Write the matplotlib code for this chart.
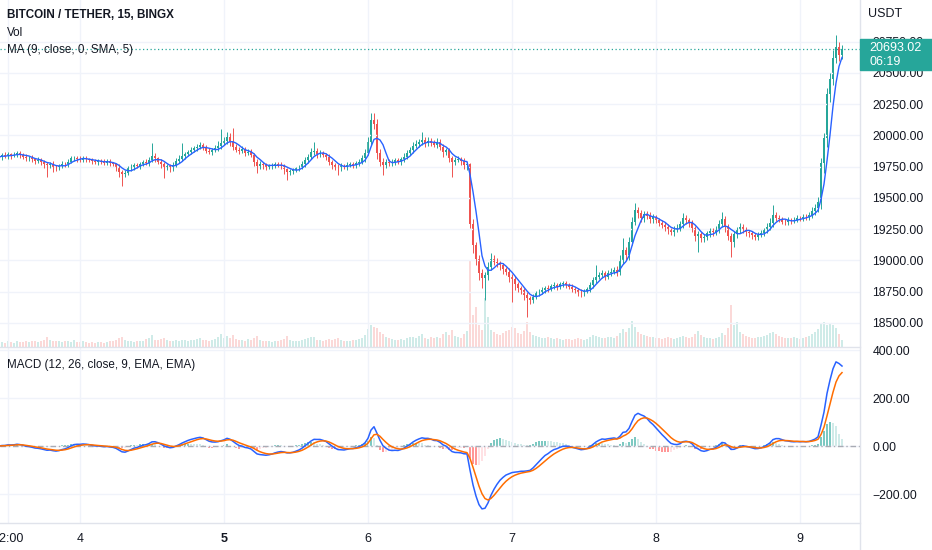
import matplotlib.pyplot as plt
from matplotlib.patches import Rectangle
from matplotlib.lines import Line2D
from matplotlib.ticker import FuncFormatter
import numpy as np
import pandas as pd

W, H = 932, 550

# 30 minute bars, BTC/USDT, from 3rd ~10:30 to 9th 07:00
first_open = 19830
closes = [
    19825, 19840, 19832, 19850, 19838, 19845, 19860, 19842, 19830, 19815,
    19822, 19808, 19795, 19800, 19785, 19770, 19760, 19772, 19745, 19740,
    19755, 19770, 19768, 19790, 19815, 19822, 19810, 19805, 19818, 19808,
    19800, 19792, 19785, 19795, 19788, 19780, 19792, 19776, 19770, 19748,
    19710, 19688, 19700, 19735, 19748, 19760, 19752, 19772, 19785, 19778,
    19805, 19838, 19815, 19790, 19770, 19745, 19752, 19738, 19765, 19795,
    19810, 19835, 19850, 19868, 19880, 19895, 19910, 19922, 19905, 19878,
    19868, 19880, 19895, 19912, 19940, 19955, 19990, 19945, 19910, 19885,
    19875, 19890, 19862, 19870, 19845, 19790, 19755, 19770, 19762, 19748,
    19755, 19760, 19770, 19765, 19758, 19730, 19705, 19712, 19722, 19735,
    19745, 19770, 19805, 19830, 19865, 19875, 19850, 19860, 19842, 19830,
    19790, 19765, 19750, 19738, 19755, 19748, 19765, 19770, 19760, 19775,
    19790, 19815, 19860, 19950, 20120, 20090, 19860, 19790, 19760, 19790,
    19775, 19790, 19800, 19785, 19810, 19830, 19860, 19880, 19915, 19930,
    19945, 19960, 19935, 19955, 19940, 19925, 19948, 19910, 19870, 19880,
    19820, 19790, 19805, 19810, 19795, 19765, 19770, 19290, 19120, 19010,
    18900, 18860, 18880, 18950, 19010, 18990, 18975, 18960, 18930, 18910,
    18870, 18850, 18810, 18780, 18760, 18720, 18700, 18680, 18710, 18735,
    18750, 18765, 18780, 18770, 18795, 18800, 18790, 18810, 18815, 18800,
    18790, 18770, 18760, 18745, 18735, 18755, 18770, 18800, 18840, 18870,
    18880, 18895, 18870, 18900, 18910, 18925, 18905, 19000, 19080, 19040,
    19150, 19310, 19400, 19380, 19340, 19370, 19355, 19330, 19345, 19320,
    19300, 19285, 19270, 19240, 19225, 19250, 19260, 19290, 19340, 19320,
    19300, 19260, 19195, 19210, 19180, 19190, 19215, 19235, 19225, 19250,
    19290, 19330, 19270, 19195, 19150, 19210, 19240, 19265, 19250, 19225,
    19215, 19200, 19190, 19205, 19220, 19240, 19270, 19300, 19360, 19340,
    19330, 19310, 19305, 19320, 19315, 19325, 19340, 19335, 19350, 19345,
    19365, 19395, 19420, 19470, 19780, 19980, 20330, 20450, 20620, 20710, 20640, 20693,
]
upper_wick = [
    20, 15, 25, 18, 12, 22, 16, 14, 20, 18,
    15, 20, 12, 25, 18, 14, 20, 16, 22, 15,
    18, 25, 14, 20, 22, 16, 12, 24, 18, 15,
    14, 18, 22, 12, 16, 20, 15, 18, 14, 12,
    20, 16, 24, 18, 22, 15, 20, 14, 18, 25,
    20, 100, 18, 15, 20, 14, 22, 16, 18, 25,
    30, 100, 20, 18, 25, 22, 20, 28, 16, 18,
    22, 18, 25, 40, 110, 30, 35, 25, 110, 20,
    18, 22, 16, 20, 18, 14, 20, 22, 16, 18,
    15, 20, 18, 14, 22, 16, 12, 18, 20, 15,
    18, 22, 25, 20, 30, 75, 20, 25, 18, 15,
    20, 16, 14, 18, 22, 15, 20, 18, 16, 22,
    18, 25, 30, 40, 60, 60, 40, 30, 25, 20,
    18, 22, 15, 20, 18, 25, 22, 30, 28, 35,
    25, 69, 30, 28, 22, 25, 30, 20, 18, 22,
    20, 18, 25, 22, 15, 20, 18, 10, 40, 30,
    35, 30, 25, 40, 48, 30, 25, 20, 22, 18,
    25, 20, 22, 18, 15, 20, 25, 18, 22, 20,
    18, 22, 15, 20, 18, 25, 20, 15, 22, 18,
    15, 20, 18, 16, 22, 18, 20, 25, 30, 90,
    25, 30, 20, 25, 30, 22, 28, 40, 98, 30,
    35, 40, 58, 30, 25, 28, 22, 30, 25, 20,
    22, 25, 18, 20, 22, 25, 30, 28, 38, 25,
    20, 22, 18, 25, 20, 18, 22, 25, 20, 28,
    30, 59, 25, 20, 22, 25, 28, 30, 22, 20,
    18, 20, 22, 18, 25, 20, 28, 35, 82, 30,
    22, 20, 18, 25, 22, 20, 25, 18, 22, 20,
    25, 30, 28, 40, 35, 40, 50, 45, 60, 92, 40, 30,
]
lower_wick = [
    18, 22, 15, 20, 25, 14, 18, 22, 16, 20,
    22, 18, 25, 14, 20, 30, 90, 20, 35, 25,
    20, 15, 22, 18, 14, 20, 25, 16, 18, 22,
    16, 20, 14, 22, 18, 15, 20, 24, 18, 30,
    40, 94, 25, 20, 18, 22, 16, 20, 15, 18,
    22, 18, 25, 20, 30, 87, 25, 30, 20, 18,
    20, 15, 22, 18, 20, 16, 22, 18, 25, 20,
    18, 22, 16, 20, 25, 18, 22, 30, 25, 20,
    22, 18, 25, 20, 22, 35, 57, 25, 30, 22,
    20, 25, 18, 22, 30, 40, 63, 25, 20, 18,
    22, 18, 20, 25, 18, 22, 30, 20, 18, 25,
    30, 35, 25, 56, 22, 20, 25, 18, 22, 20,
    18, 22, 25, 20, 30, 40, 50, 35, 78, 25,
    22, 20, 25, 18, 20, 22, 18, 20, 25, 18,
    20, 22, 25, 18, 22, 20, 25, 30, 40, 25,
    30, 120, 25, 22, 30, 35, 40, 30, 60, 50,
    60, 80, 178, 40, 30, 25, 30, 35, 40, 30,
    40, 182, 50, 35, 30, 40, 150, 30, 25, 20,
    22, 18, 25, 20, 18, 22, 25, 18, 20, 22,
    20, 25, 22, 30, 28, 20, 18, 22, 25, 20,
    22, 25, 30, 20, 25, 22, 28, 25, 30, 40,
    35, 30, 25, 40, 35, 30, 25, 28, 30, 25,
    28, 30, 35, 30, 25, 28, 22, 25, 30, 28,
    30, 35, 40, 130, 35, 30, 25, 28, 30, 25,
    28, 25, 40, 35, 124, 40, 30, 25, 28, 30,
    25, 30, 28, 25, 22, 25, 20, 25, 30, 28,
    25, 22, 20, 25, 22, 20, 18, 22, 20, 25,
    22, 25, 30, 35, 60, 80, 70, 60, 50, 40, 45, 30,
]
volume = [
    180, 220, 160, 240, 200, 170, 260, 190, 210, 230,
    200, 240, 260, 220, 250, 300, 420, 280, 260, 240,
    230, 210, 260, 240, 220, 280, 200, 190, 230, 210,
    180, 200, 170, 190, 210, 180, 200, 230, 260, 300,
    380, 420, 300, 260, 240, 220, 250, 230, 260, 320,
    360, 480, 300, 280, 340, 380, 300, 260, 240, 280,
    260, 300, 280, 250, 270, 300, 330, 350, 300, 280,
    260, 300, 340, 420, 520, 380, 460, 360, 480, 320,
    300, 280, 260, 320, 300, 380, 440, 300, 260, 250,
    240, 220, 260, 240, 280, 340, 460, 300, 260, 250,
    240, 280, 320, 360, 420, 400, 300, 280, 260, 300,
    320, 300, 340, 360, 280, 260, 240, 260, 280, 300,
    320, 380, 500, 720, 900, 820, 760, 600, 520, 420,
    380, 340, 300, 280, 320, 300, 360, 400, 420, 380,
    460, 520, 380, 340, 400, 360, 420, 380, 520, 600,
    480, 700, 460, 420, 380, 520, 640, 3480, 1300, 1600,
    900, 700, 1960, 1200, 700, 600, 520, 480, 560, 640,
    700, 820, 760, 560, 520, 640, 1000, 600, 500, 460,
    420, 380, 360, 400, 380, 340, 360, 320, 300, 340,
    320, 300, 340, 360, 320, 300, 340, 420, 480, 440,
    400, 380, 360, 400, 420, 380, 440, 560, 720, 600,
    760, 1040, 820, 600, 520, 480, 440, 420, 400, 380,
    360, 340, 380, 400, 360, 340, 380, 420, 460, 400,
    380, 420, 520, 640, 480, 420, 380, 360, 340, 380,
    400, 560, 480, 760, 1680, 900, 1000, 620, 520, 440,
    400, 380, 360, 400, 420, 440, 480, 560, 620, 520,
    460, 420, 380, 360, 380, 400, 360, 340, 380, 400,
    440, 520, 600, 720, 920, 1000, 900, 960, 880, 760, 520, 300,
]

last_price = 20693.02
countdown = '06:19'
price_ticks = [18500, 18750, 19000, 19250, 19500, 19750, 20000, 20250, 20500, 20750]
macd_ticks = [-200, 0, 200, 400]
day_ticks = [-12, 0, 24, 48, 72, 96, 120]   # hours from the 4th 00:00
day_labels = ['12:00', '4', '5', '6', '7', '8', '9']

UP = '#26a69a'
DOWN = '#ef5350'
TXT = '#131722'
GRID = '#f0f3fa'
LINE = '#e0e3eb'

close = np.array(closes, dtype=float)
open_ = np.r_[first_open, close[:-1]]
high = np.maximum(open_, close) + np.array(upper_wick)
low = np.minimum(open_, close) - np.array(lower_wick)
t = -13.5 + 0.5 * np.arange(len(close))
up = close >= open_
cols = np.where(up, UP, DOWN)

# indicators
s = pd.Series(close)
ma = s.rolling(5, min_periods=1).mean()
macd = s.ewm(span=6, adjust=False).mean() - s.ewm(span=13, adjust=False).mean()
signal = macd.ewm(span=5, adjust=False).mean()
hist = (macd - signal).values
prev = np.r_[0, hist[:-1]]
hist_cols = np.where(hist >= 0,
                     np.where(hist >= prev, '#26a69a', '#b2dfdb'),
                     np.where(hist < prev, '#ff5252', '#ffcdd2'))

price_fmt = FuncFormatter(lambda v, p: f'{v:.2f}'.replace('-', '\u2212'))

plt.rcParams['font.family'] = ['Liberation Sans', 'DejaVu Sans']
fig = plt.figure(figsize=(W / 100, H / 100), dpi=100)


def fx(px):
    return px / W


def fy(py):
    return 1 - py / H


ax = fig.add_axes([0, fy(347), fx(860), 347 / H])
axm = fig.add_axes([0, fy(523), fx(860), (523 - 347) / H], sharex=ax)

# volume underneath the candles
axv = ax.twinx()
axv.bar(t, volume, width=0.3, color=np.where(up, UP, DOWN), alpha=0.22, linewidth=0)
axv.set_ylim(0, 13880)
axv.set_yticks([])
ax.set_zorder(axv.get_zorder() + 1)
ax.patch.set_visible(False)

# candles
ax.vlines(t, low, high, colors=cols, linewidth=0.7)
body = np.maximum(np.abs(close - open_), 3)
ax.bar(t, body, bottom=np.minimum(open_, close), width=0.32, color=cols, linewidth=0)
ax.plot(t, ma, color='#2962ff', lw=1.0)
ax.axhline(last_price, color=UP, lw=0.9, ls=(0, (1, 2)))

ax.set_xlim(-13.333, 130.0)
ax.set_ylim(18306, 21082)
ax.yaxis.tick_right()
ax.set_yticks(price_ticks)
ax.yaxis.set_major_formatter(price_fmt)
ax.tick_params(axis='y', length=0, pad=9, labelsize=8.8, labelcolor=TXT)
ax.tick_params(axis='x', length=0, labelbottom=False)
ax.grid(True, color=GRID, lw=1)

# MACD panel
axm.bar(t, hist, width=0.35, color=hist_cols, alpha=0.6, linewidth=0)
axm.axhline(0, color='#787b86', lw=1, ls=(0, (4, 2, 1, 2)), alpha=0.6)
axm.plot(t, macd, color='#2962ff', lw=1.1)
axm.plot(t, signal, color='#ff6d00', lw=1.1)
axm.set_ylim(-320.8, 412.5)
axm.yaxis.tick_right()
axm.set_yticks(macd_ticks)
axm.yaxis.set_major_formatter(price_fmt)
axm.tick_params(axis='y', length=0, pad=9, labelsize=8.8, labelcolor=TXT)
axm.set_xticks(day_ticks, day_labels)
axm.tick_params(axis='x', length=0, pad=7, labelsize=9, labelcolor=TXT)
axm.get_xticklabels()[2].set_fontweight('bold')
axm.grid(True, color=GRID, lw=1)

for a in (ax, axv, axm):
    for sp in a.spines.values():
        sp.set_visible(False)

# panel borders
fig.add_artist(Line2D([0, fx(860)], [fy(347), fy(347)], color=LINE, lw=1))
fig.add_artist(Line2D([0, fx(860)], [fy(523), fy(523)], color=LINE, lw=1))
fig.add_artist(Line2D([fx(860), fx(860)], [0, 1], color=LINE, lw=1))

# last price tag
fig.add_artist(Rectangle((fx(860), fy(70)), fx(72), 31 / H, color=UP, zorder=5))
fig.text(fx(869), fy(48), f'{last_price:.2f}', color='white', fontsize=9, va='center', zorder=6)
fig.text(fx(869), fy(62), countdown, color='white', fontsize=9, va='center', zorder=6)
fig.text(fx(868), fy(14), 'USDT', color=TXT, fontsize=9, va='center')

# legends
fig.text(fx(7), fy(15), 'BITCOIN / TETHER, 15, BINGX', color=TXT, fontsize=8.4,
         weight='bold', va='center')
fig.text(fx(7), fy(33), 'Vol', color=TXT, fontsize=8.4, va='center')
fig.text(fx(7), fy(50), 'MA (9, close, 0, SMA, 5)', color=TXT, fontsize=8.4, va='center')
fig.text(fx(7), fy(365), 'MACD (12, 26, close, 9, EMA, EMA)', color=TXT, fontsize=8.4, va='center')

fig.savefig('out.png', dpi=100)
